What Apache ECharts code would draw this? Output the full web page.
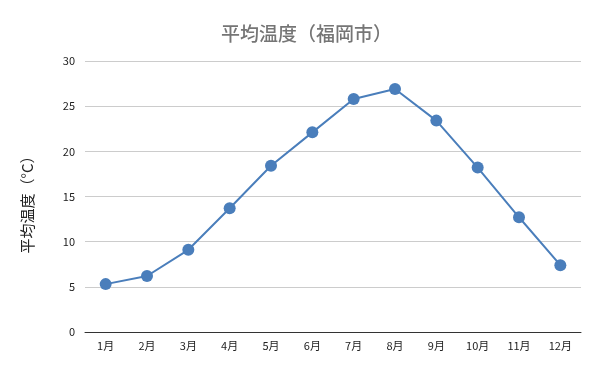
<!DOCTYPE html>
<html><head><meta charset="utf-8">
<script src="https://cdn.jsdelivr.net/npm/echarts@6/dist/echarts.min.js"></script>
<style>html,body{margin:0;padding:0;background:#fff}#c{width:600px;height:371px}</style>
</head><body><div id="c"></div>
<script>
const months = ['1月','2月','3月','4月','5月','6月','7月','8月','9月','10月','11月','12月'];
const avgTemp = [5.3, 6.2, 9.1, 13.7, 18.4, 22.1, 25.8, 26.9, 23.4, 18.2, 12.7, 7.4];
const titleText = '平均温度（福岡市）';
const yName = '平均温度（°C）';
const chart = echarts.init(document.getElementById('c'));
chart.setOption({
  animation: false,
  title: {text: titleText, left: 216, top: 19,
    textStyle: {fontFamily: 'Noto Sans CJK JP', fontSize: 19, fontWeight: 500, color: '#757575'}},
  grid: {left: 85, right: 19, top: 61, bottom: 39},
  xAxis: {type: 'category', data: months, boundaryGap: true,
    axisLine: {lineStyle: {color: '#333', width: 1}}, axisTick: {show: false},
    axisLabel: {color: '#222', fontSize: 11, fontFamily: 'Noto Sans CJK JP', margin: 8}},
  yAxis: {type: 'value', min: 0, max: 30, interval: 5,
    name: yName, nameLocation: 'middle', nameGap: 50, nameRotate: 90,
    nameTextStyle: {fontFamily: 'Noto Sans CJK JP', fontSize: 15, color: '#222', padding: [0, 9, 0, 0]},
    axisLine: {show: false}, axisTick: {show: false},
    axisLabel: {color: '#222', fontSize: 11, fontFamily: 'Noto Sans CJK JP', margin: 10},
    splitLine: {lineStyle: {color: '#cccccc', width: 1}}},
  series: [{type: 'line', data: avgTemp, symbol: 'circle', symbolSize: 12,
    lineStyle: {color: '#4a7ebb', width: 2}, itemStyle: {color: '#4a7ebb'}}]
});
</script></body></html>
